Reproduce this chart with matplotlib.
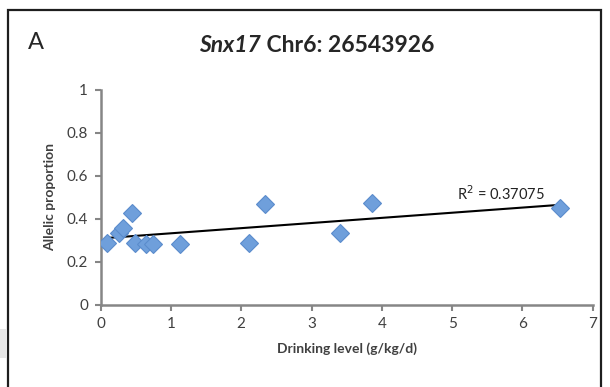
import numpy as np
import matplotlib
matplotlib.use("Agg")
import matplotlib.pyplot as plt
from matplotlib.patches import Rectangle

# values
drinking = [0.09, 0.26, 0.32, 0.45, 0.49, 0.65, 0.75, 1.13, 2.11, 2.34, 3.41, 3.86, 6.53]
allelic = [0.29, 0.335, 0.357, 0.427, 0.287, 0.282, 0.282, 0.282, 0.287, 0.47, 0.336, 0.473, 0.45]
xticks = [0, 1, 2, 3, 4, 5, 6, 7]
yticks = [0, 0.2, 0.4, 0.6, 0.8, 1]
r2_label = "R$^2$ = 0.37075"

plt.rcParams['font.family'] = ['Lato', 'DejaVu Sans']

fig = plt.figure(figsize=(6.10, 3.87), dpi=100)
ax = fig.add_axes([0.165, 0.212, 0.8066, 0.5555])

gray = '#868686'
txt = '#404040'

x = np.array(drinking)
y = np.array(allelic)
ax.plot(x, y, linestyle='', marker='D', markersize=9,
        markerfacecolor='#6f9fdb', markeredgecolor='#5b8ccc', markeredgewidth=0.8, zorder=3)

k, b = np.polyfit(x, y, 1)
xs = np.array([x.min(), x.max()])
ax.plot(xs, k * xs + b, color='black', linewidth=1.5, zorder=2)

ax.text(0.903, 0.475, r2_label, transform=ax.transAxes, ha='right', va='bottom',
        fontsize=10.5, color='#222222')

ax.set_xlim(0, 7)
ax.set_ylim(0, 1)
ax.set_xticks(xticks)
ax.set_xticklabels([str(t) for t in xticks])
ax.set_yticks(yticks)
ax.set_yticklabels(['0', '0.2', '0.4', '0.6', '0.8', '1'])
for s in ['top', 'right']:
    ax.spines[s].set_visible(False)
for s in ['left', 'bottom']:
    ax.spines[s].set_color(gray)
    ax.spines[s].set_linewidth(1.8)
ax.tick_params(direction='out', length=4, width=1.5, color=gray,
               labelcolor=txt, labelsize=11, pad=5)

ax.set_xlabel('Drinking level (g/kg/d)', fontsize=10, fontweight='bold', color=txt, labelpad=8)
ax.set_ylabel('Allelic proportion', fontsize=10, fontweight='bold', color=txt, labelpad=8)

fig.text(0.428, 0.882, 'Snx17', ha='right', va='center', fontsize=16.5,
         fontweight='bold', fontstyle='italic', color='#262626')
fig.text(0.428, 0.882, ' Chr6: 26543926', ha='left', va='center', fontsize=16.5,
         fontweight='bold', color='#262626')
fig.text(0.045, 0.89, 'A', ha='left', va='center', fontsize=17, color='#262626')

# frame around the panel and the grey scrap at the left edge
fig.patches.append(Rectangle((8 / 610, -0.05), 593 / 610, 1 - 10 / 387 + 0.05,
                             transform=fig.transFigure, fill=False,
                             edgecolor='#1e1e1e', linewidth=1.6))
fig.patches.append(Rectangle((0, 1 - 358 / 387), 7 / 610, 29 / 387,
                             transform=fig.transFigure, facecolor='#e6e6e6',
                             edgecolor='none'))

fig.savefig('out.png', dpi=100)
